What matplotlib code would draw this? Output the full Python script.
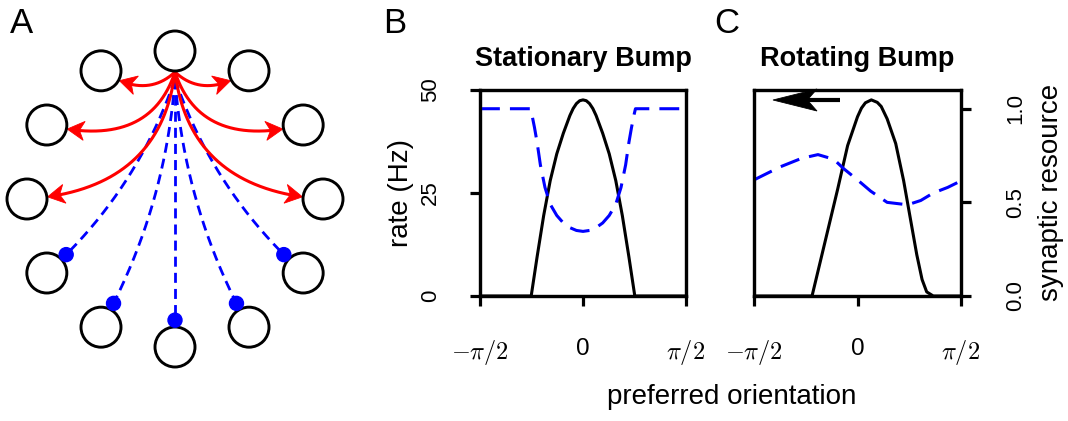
import numpy as np
import matplotlib
matplotlib.use('Agg')
import matplotlib.pyplot as plt
from matplotlib.patches import Circle, Polygon

plt.rcParams['font.family'] = ['Liberation Sans', 'DejaVu Sans']
plt.rcParams['mathtext.fontset'] = 'cm'
plt.rcParams['axes.linewidth'] = 2.3

W, H = 1068, 421
BLUE = '#0000FF'
RED = '#FF0000'

# --- panel B: stationary bump ---
theta_b = [-1.571, -0.79, -0.70, -0.60, -0.50, -0.40, -0.30, -0.20, -0.15, -0.10,
           -0.05, 0.0, 0.05, 0.10, 0.15, 0.20, 0.30, 0.40, 0.50, 0.60,
           0.70, 0.79, 1.571]
rate_b = [0, 0, 9.5, 19.5, 28, 34.5, 39.5, 43.8, 45.5, 46.7,
          47.4, 47.6, 47.4, 46.7, 45.5, 43.8, 39.5, 34.5, 28, 19.5,
          9.5, 0, 0]
theta_b_res = [-1.571, -0.80, -0.78, -0.74, -0.70, -0.65, -0.58, -0.50, -0.40, -0.30,
               -0.20, -0.10, 0.0, 0.10, 0.20, 0.30, 0.40, 0.50, 0.58, 0.65,
               0.70, 0.74, 0.78, 0.80, 1.571]
res_b = [1.0, 1.0, 0.97, 0.90, 0.82, 0.70, 0.58, 0.49, 0.43, 0.39,
         0.365, 0.35, 0.345, 0.35, 0.365, 0.39, 0.43, 0.49, 0.58, 0.70,
         0.82, 0.90, 0.97, 1.0, 1.0]

# --- panel C: rotating bump ---
theta_c = [-1.571, -0.69, -0.60, -0.45, -0.30, -0.15, 0.0, 0.06, 0.12, 0.21,
           0.30, 0.36, 0.45, 0.58, 0.70, 0.80, 0.90, 0.98, 1.05, 1.15, 1.571]
rate_c = [0, 0, 6, 16, 26, 36.5, 43.5, 45.6, 46.9, 47.6,
          47.0, 46.0, 43, 37, 28, 19, 10, 4, 1, 0, 0]
theta_c_res = [-1.571, -1.17, -0.85, -0.60, -0.36, -0.21, 0.0, 0.20, 0.45, 0.76,
               0.96, 1.15, 1.37, 1.571]
res_c = [0.62, 0.69, 0.735, 0.755, 0.73, 0.68, 0.62, 0.56, 0.50, 0.487,
         0.51, 0.55, 0.58, 0.615]

rate_ticks = [0, 25, 50]
res_ticks = [0.0, 0.5, 1.0]
res_tick_labels = ['0.0', '0.5', '1.0']
orient_ticks = [-np.pi / 2, 0, np.pi / 2]
orient_labels = [r'$-\pi/2$', '0', r'$\pi/2$']

# --- panel A: ring network ---
node_angles = [90, 60, 30, 0, -30, -60, -90, -120, -150, 180, 150, 120]
excit_targets = [120, 60, 150, 30, 180, 0]
# control point: fraction of the way across, pixels below the target
excit_ctrl = [(0.4, 29), (0.4, 29), (0.2, 25), (0.2, 25), (0.1, -9), (0.1, -9)]
inhib_targets = [210, 240, 270, 300, 330]
inhib_bend = [-0.13, -0.11, 0.0, 0.11, 0.13]

RING_C = (175, 199)
RING_R = 148
NODE_R = 20


def px_axes(left, top, right, bottom):
    return [left / W, 1 - bottom / H, (right - left) / W, (bottom - top) / H]


def fig_text(fig, x, y, s, **kw):
    fig.text(x / W, 1 - y / H, s, **kw)


def node_xy(a):
    r = np.deg2rad(a)
    return np.array([RING_C[0] + RING_R * np.cos(r), RING_C[1] - RING_R * np.sin(r)])


def bezier(p0, c, p2, n=600):
    t = np.linspace(0, 1, n)[:, None]
    return (1 - t) ** 2 * p0 + 2 * (1 - t) * t * c + t ** 2 * p2


def notched_arrow(ax, pts, length, half_width, color, lw, notch=0.8, zorder=3):
    tip = pts[-1]
    back = pts[np.argmax(np.linalg.norm(pts - tip, axis=1) < length)]
    u = (tip - back) / np.linalg.norm(tip - back)
    n = np.array([-u[1], u[0]])
    base = tip - length * u
    head = [tip, base + half_width * n, tip - notch * length * u, base - half_width * n]
    ax.add_patch(Polygon(head, closed=True, facecolor=color, edgecolor=color,
                         lw=0.6, joinstyle='miter', zorder=zorder))
    keep = np.linalg.norm(pts - tip, axis=1) >= notch * length * 0.9
    shaft = pts[keep]
    ax.plot(shaft[:, 0], shaft[:, 1], color=color, lw=lw,
            solid_capstyle='butt', zorder=zorder)


def draw_network(ax):
    ax.set_xlim(0, 360)
    ax.set_ylim(H, 0)
    ax.axis('off')

    for a in node_angles:
        ax.add_patch(Circle(node_xy(a), NODE_R, facecolor='white',
                            edgecolor='black', lw=2.1, zorder=2))

    top = node_xy(90)
    src_red = top + np.array([0, NODE_R + 1])
    src_blue = top + np.array([0, NODE_R + 8])

    for a, (fx, dy) in zip(excit_targets, excit_ctrl):
        tgt = node_xy(a)
        ctrl = np.array([src_red[0] + fx * (tgt[0] - src_red[0]), tgt[1] + dy])
        pts = bezier(src_red, ctrl, tgt)
        inside = np.linalg.norm(pts - tgt, axis=1) <= NODE_R + 1
        pts = pts[:np.argmax(inside) + 1]
        notched_arrow(ax, pts, 17, 9.5, RED, 2.2, notch=0.72, zorder=1.5)

    for a, rad in zip(inhib_targets, inhib_bend):
        tgt = node_xy(a)
        d = tgt - src_blue
        ctrl = (src_blue + tgt) / 2 + (-rad) * np.array([d[1], -d[0]])
        pts = bezier(src_blue, ctrl, tgt)
        near = np.linalg.norm(pts - tgt, axis=1) <= NODE_R + 7
        pts = pts[:np.argmax(near) + 1]
        ax.plot(pts[:, 0], pts[:, 1], color=BLUE, lw=2.0, dashes=(3.6, 2.2),
                zorder=1)
        ax.add_patch(Circle(pts[-1], 7, color=BLUE, zorder=3))


def style_orient_axis(ax):
    ax.set_xlim(-np.pi / 2, np.pi / 2)
    ax.set_xticks(orient_ticks)
    ax.set_xticklabels(orient_labels)
    ax.tick_params(axis='x', direction='out', length=7, width=2.3,
                   labelsize=17.5, pad=23)


def draw_bump(ax, theta, rate, theta_res, res):
    ax.plot(theta, rate, color='black', lw=2.2, solid_joinstyle='round')
    ax.set_ylim(0, 50)
    ax2 = ax.twinx()
    ln, = ax2.plot(theta_res, res, color=BLUE, lw=2.2)
    ln.set_dashes([6.5, 3.3])
    ax2.set_ylim(0, 1.1)
    ax2.set_xlim(-np.pi / 2, np.pi / 2)
    style_orient_axis(ax)
    return ax2


def main():
    fig = plt.figure(figsize=(W / 100, H / 100), dpi=100)

    ax_a = fig.add_axes([0, 0, 360 / W, 1])
    draw_network(ax_a)

    ax_b = fig.add_axes(px_axes(480, 90, 686, 296))
    ax_b2 = draw_bump(ax_b, theta_b, rate_b, theta_b_res, res_b)
    ax_b.set_yticks(rate_ticks)
    ax_b.tick_params(axis='y', direction='out', length=7, width=2.3,
                     labelsize=16, pad=21, labelrotation=90)
    for lbl in ax_b.get_yticklabels():
        lbl.set_va('center')
    ax_b2.set_yticks([])

    ax_c = fig.add_axes(px_axes(754, 90, 961, 296))
    ax_c2 = draw_bump(ax_c, theta_c, rate_c, theta_c_res, res_c)
    ax_c.set_yticks([])
    ax_c2.set_yticks(res_ticks)
    ax_c2.set_yticklabels(res_tick_labels)
    ax_c2.tick_params(axis='y', direction='out', length=7, width=2.3,
                      labelsize=16, pad=25, labelrotation=90)
    for lbl in ax_c2.get_yticklabels():
        lbl.set_va('center')

    # direction of rotation, drawn in pixel units on an overlay
    over = fig.add_axes([0, 0, 1, 1], zorder=10)
    over.set_xlim(0, W)
    over.set_ylim(H, 0)
    over.axis('off')
    shaft = np.column_stack([np.linspace(840, 773, 100), np.full(100, 100.0)])
    notched_arrow(over, shaft, 44, 11, 'black', 3.0, notch=0.78)

    fig_text(fig, 583, 66, 'Stationary Bump', ha='center', va='baseline',
             fontsize=19.5, fontweight='bold')
    fig_text(fig, 857, 66, 'Rotating Bump', ha='center', va='baseline',
             fontsize=19.5, fontweight='bold')
    fig_text(fig, 401, 193, 'rate (Hz)', ha='center', va='center',
             rotation=90, fontsize=20)
    fig_text(fig, 1051, 192, 'synaptic resource', ha='center', va='center',
             rotation=90, fontsize=20)
    fig_text(fig, 732, 404, 'preferred orientation', ha='center', va='baseline',
             fontsize=20)

    for lab, x in zip(['A', 'B', 'C'], [21.5, 394.5, 727]):
        fig_text(fig, x, 33, lab, ha='center', va='baseline', fontsize=25)

    fig.savefig('out.png', dpi=100)
    plt.close(fig)


if __name__ == '__main__':
    main()
